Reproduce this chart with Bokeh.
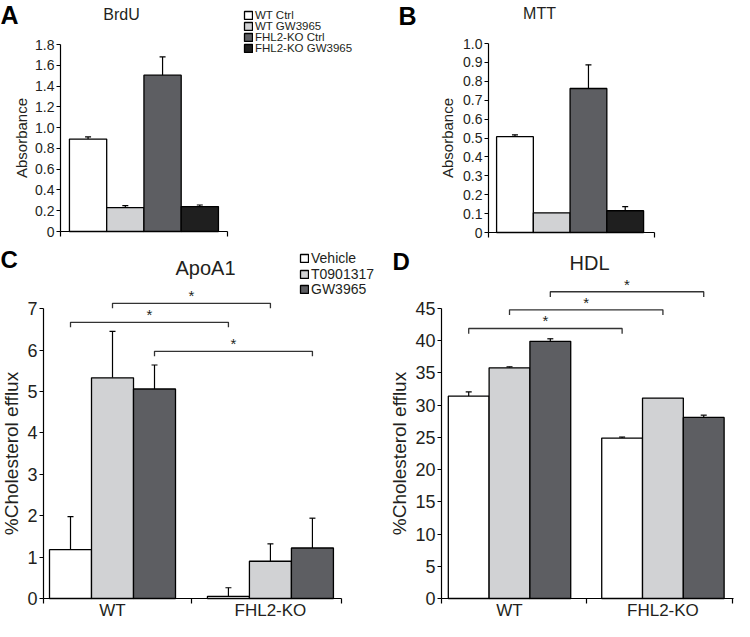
from bokeh.plotting import figure
from bokeh.layouts import column, row
from bokeh.models import (ColumnDataSource, FixedTicker, Label, Legend, LegendItem,
                          Whisker, TeeHead, Range1d)
from bokeh.core.properties import value
from bokeh.embed import file_html
from bokeh.resources import INLINE

FONT = "Liberation Sans"
INK = "#231f20"

# ---------------- data ----------------
prolif_labels = ["WT Ctrl", "WT GW3965", "FHL2-KO Ctrl", "FHL2-KO GW3965"]
prolif_colors = ["#ffffff", "#d1d2d4", "#5d5e62", "#1f1f1f"]
brdu_mean = [0.89, 0.23, 1.505, 0.24]
brdu_err = [0.02, 0.02, 0.175, 0.015]
mtt_mean = [0.507, 0.104, 0.762, 0.115]
mtt_err = [0.010, 0.0, 0.125, 0.022]

brdu_ticks = [0, 0.2, 0.4, 0.6, 0.8, 1.0, 1.2, 1.4, 1.6, 1.8]
brdu_tick_labels = ["0", "0.2", "0.4", "0.6", "0.8", "1.0", "1.2", "1.4", "1.6", "1.8"]
mtt_ticks = [0, 0.1, 0.2, 0.3, 0.4, 0.5, 0.6, 0.7, 0.8, 0.9, 1.0]
mtt_tick_labels = ["0", "0.1", "0.2", "0.3", "0.4", "0.5", "0.6", "0.7", "0.8", "0.9", "1.0"]

groups = ["WT", "FHL2-KO"]
treatments = ["Vehicle", "T0901317", "GW3965"]
treat_colors = ["#ffffff", "#d1d2d4", "#5d5e62"]

apoa1_vehicle = [1.18, 0.05]
apoa1_t0901317 = [5.33, 0.90]
apoa1_gw3965 = [5.06, 1.22]
apoa1_vehicle_err = [0.80, 0.21]
apoa1_t0901317_err = [1.12, 0.42]
apoa1_gw3965_err = [0.58, 0.72]
apoa1_ticks = [0, 1, 2, 3, 4, 5, 6, 7]
apoa1_bracket_level = [6.67, 7.13, 5.97]   # WT vs FHL2-KO, per treatment

hdl_vehicle = [31.4, 24.9]
hdl_t0901317 = [35.8, 31.1]
hdl_gw3965 = [39.9, 28.1]
hdl_vehicle_err = [0.65, 0.15]
hdl_t0901317_err = [0.15, 0.0]
hdl_gw3965_err = [0.40, 0.35]
hdl_ticks = [0, 5, 10, 15, 20, 25, 30, 35, 40, 45]
hdl_bracket_level = [41.9, 44.8, 47.6]


# ---------------- helpers ----------------
def make_fig(W, H, ax_px, x_axis_val, ux, y0_px, uy):
    """Frame fills the whole figure; axes are pinned inside it with fixed_location."""
    xr = (x_axis_val - ax_px / ux, x_axis_val + (W - ax_px) / ux)
    yr = (-(H - y0_px) / uy, y0_px / uy)
    p = figure(width=W, height=H, x_range=Range1d(*xr), y_range=Range1d(*yr),
               min_border=0, output_backend="svg", toolbar_location=None, title=None)
    p.xgrid.visible = False
    p.ygrid.visible = False
    p.outline_line_color = None
    p.background_fill_color = "white"
    p.border_fill_color = "white"
    p.yaxis[0].fixed_location = x_axis_val
    p.xaxis[0].fixed_location = 0
    return p


def style_y(p, ticks, labels, tick_size, label, label_size, standoff):
    ax = p.yaxis[0]
    ax.ticker = FixedTicker(ticks=ticks)
    ax.major_label_overrides = {t: l for t, l in zip(ticks, labels)}
    ax.bounds = (ticks[0], ticks[-1])
    ax.axis_line_color = "black"
    ax.axis_line_width = 1.2
    ax.major_tick_line_color = "black"
    ax.major_tick_out = 4
    ax.major_tick_in = 0
    ax.minor_tick_line_color = None
    ax.major_label_standoff = 2
    ax.major_label_text_font = FONT
    ax.major_label_text_font_size = tick_size
    ax.major_label_text_color = INK
    ax.axis_label = label
    ax.axis_label_text_font = FONT
    ax.axis_label_text_font_style = "normal"
    ax.axis_label_text_font_size = label_size
    ax.axis_label_text_color = INK
    ax.axis_label_standoff = standoff


def style_x(p, centers, names, edges, bounds, label_size, tick_out, standoff):
    ax = p.xaxis[0]
    ax.ticker = FixedTicker(ticks=centers, minor_ticks=edges)
    ax.major_label_overrides = {c: n for c, n in zip(centers, names)}
    ax.bounds = bounds
    ax.axis_line_color = "black"
    ax.axis_line_width = 1.2
    ax.major_tick_out = 0
    ax.major_tick_in = 0
    ax.minor_tick_out = tick_out
    ax.minor_tick_in = 0
    ax.minor_tick_line_color = "black"
    ax.minor_tick_line_width = 1.2
    ax.major_label_standoff = standoff
    ax.major_label_text_font = FONT
    ax.major_label_text_font_size = label_size
    ax.major_label_text_color = INK


def add_text(p, x, y, text, size, bold=False, align="center", baseline="middle"):
    # x, y: pixels from the figure's left / top edge
    H = p.height
    p.add_layout(Label(x=x, y=H - y, x_units="screen", y_units="screen", text=text,
                       text_font=FONT, text_font_size=size,
                       text_font_style="bold" if bold else "normal",
                       text_color="black" if bold else INK,
                       text_align=align, text_baseline=baseline))


def add_legend_rows(p, entries, left, first_center, pitch, size):
    """One single-row legend per entry so that the row pitch matches the original."""
    row_h = round(float(size[:-2]) * 1.15)
    for i, (lab, rend, idx) in enumerate(entries):
        yc = first_center + i * pitch
        kw = dict(label=lab, renderers=[rend])
        if idx is not None:
            kw["index"] = idx
        lg = Legend(items=[LegendItem(**kw)], location=(left, p.height - yc - row_h / 2))
        lg.label_text_font = FONT
        lg.label_text_font_size = size
        lg.label_text_color = INK
        lg.glyph_width = 10
        lg.glyph_height = 10
        lg.label_height = 10
        lg.label_standoff = 2
        lg.spacing = 0
        lg.padding = 0
        lg.margin = 0
        lg.border_line_color = None
        lg.background_fill_alpha = 0
        p.add_layout(lg)


def add_whiskers(p, xs, means, errs):
    ex = [x for x, e in zip(xs, errs) if e > 0]
    lo = [m for m, e in zip(means, errs) if e > 0]
    hi = [m + e for m, e in zip(means, errs) if e > 0]
    esrc = ColumnDataSource(dict(x=ex, lower=lo, upper=hi))
    p.add_layout(Whisker(source=esrc, base="x", lower="lower", upper="upper",
                         line_color="black", line_width=1.2, lower_head=None,
                         upper_head=TeeHead(size=6, line_color="black", line_width=1.2)))


def single_panel(W, ax_px, x_lo, x_hi, ux, y0_px, uy, means, errs, ticks, tick_labels,
                 letter, letter_xy, title, title_xy, legend_pos, standoff):
    p = make_fig(W, 240, ax_px, x_lo, ux, y0_px, uy)
    xs = list(range(len(means)))
    src = ColumnDataSource(dict(x=xs, top=means, color=prolif_colors))
    r = p.vbar(x="x", top="top", width=1, fill_color="color", line_color="black",
               line_width=1.3, source=src)
    add_whiskers(p, xs, means, errs)
    style_y(p, ticks, tick_labels, "14px", "Absorbance", "15px", standoff)
    eps = 0.003
    style_x(p, [], [], [x_lo + eps, x_hi - eps], (x_lo, x_hi), "12px", 5, 0)
    add_text(p, letter_xy[0], letter_xy[1], letter, "25px", bold=True,
             align="left", baseline="top")
    add_text(p, title_xy[0], title_xy[1], title, "16px")
    if legend_pos is not None:
        entries = [(prolif_labels[i], r, i) for i in range(len(prolif_labels))]
        add_legend_rows(p, entries, legend_pos[0], legend_pos[1], legend_pos[2], "11.5px")
    return p


def group_panel(W, ax_px, x_lo, x_hi, ux, y0_px, uy, series, series_err, ticks, levels,
                drop, star_off, letter, letter_xy, title, title_xy, legend_pos):
    p = make_fig(W, 381, ax_px, x_lo, ux, y0_px, uy)
    gx = [0, 3.76]
    offs = [-1, 0, 1]
    rends = []
    for k in range(3):
        xs = [g + offs[k] for g in gx]
        src = ColumnDataSource(dict(x=xs, top=series[k]))
        r = p.vbar(x="x", top="top", width=1, fill_color=treat_colors[k], line_color="black",
                   line_width=1.3, source=src)
        rends.append(r)
        add_whiskers(p, xs, series[k], series_err[k])
    bx, by, sx, sy = [], [], [], []
    for k in range(3):
        x1 = gx[0] + offs[k]
        x2 = gx[1] + offs[k]
        lv = levels[k]
        bx.append([x1, x1, x2, x2])
        by.append([lv - drop, lv, lv, lv - drop])
        sx.append((x1 + x2) / 2)
        sy.append(lv + star_off)
    p.multi_line(xs=bx, ys=by, line_color="#333333", line_width=1.3)
    p.text(x=sx, y=sy, text=["*"] * 3, text_font=value(FONT), text_font_size="15px",
           text_align="center", text_baseline="middle", text_color=INK)
    style_y(p, ticks, [str(t) for t in ticks], "18px", "%Cholesterol efflux", "19px", 2)
    eps = 0.004
    style_x(p, gx, groups, [x_lo + eps, (gx[0] + gx[1]) / 2, x_hi - eps], (x_lo, x_hi),
            "17px", 5, -3)
    add_text(p, letter_xy[0], letter_xy[1], letter, "24px", bold=True,
             align="left", baseline="top")
    add_text(p, title_xy[0], title_xy[1], title, "20px")
    if legend_pos is not None:
        entries = [(treatments[k], rends[k], None) for k in range(3)]
        add_legend_rows(p, entries, legend_pos[0], legend_pos[1], legend_pos[2], "14px")
    return p


# ---------------- panels ----------------
pA = single_panel(378, 60, -0.74, 3.74, 37.25, 231, 187 / 1.8, brdu_mean, brdu_err,
                  brdu_ticks, brdu_tick_labels, "A", (0, 0), "BrdU", (121, 14),
                  (243, 14, 11), 2)
pB = single_panel(356, 110, -0.72, 3.80, 36.75, 232, 189.0, mtt_mean, mtt_err,
                  mtt_ticks, mtt_tick_labels, "B", (20, 1), "MTT", (161, 13),
                  None, 4)

pC = group_panel(378, 43, -1.643, 5.452, 42.0, 358, 41.4,
                 [apoa1_vehicle, apoa1_t0901317, apoa1_gw3965],
                 [apoa1_vehicle_err, apoa1_t0901317_err, apoa1_gw3965_err],
                 apoa1_ticks, apoa1_bracket_level, 0.12, 0.2,
                 "C", (0, 5), "ApoA1", (205, 27), (299, 18, 15.5))
pD = group_panel(356, 63, -1.667, 5.479, 40.8, 358, 290 / 45,
                 [hdl_vehicle, hdl_t0901317, hdl_gw3965],
                 [hdl_vehicle_err, hdl_t0901317_err, hdl_gw3965_err],
                 hdl_ticks, hdl_bracket_level, 0.8, 1.2,
                 "D", (14, 7), "HDL", (211, 22), None)

layout = column(row(pA, pB), row(pC, pD))
open("out.html", "w").write(file_html(layout, INLINE))
